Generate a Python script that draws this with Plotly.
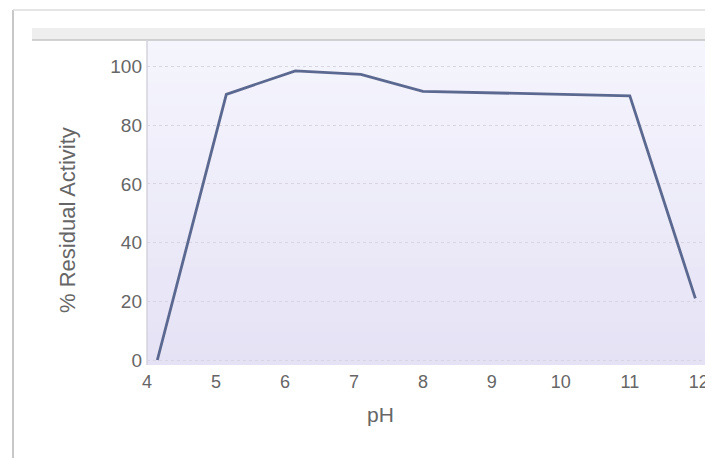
import plotly.graph_objects as go

ph = [4.15, 5.15, 6.15, 7.1, 8.0, 11.0, 11.95]
activity = [0, 90.5, 98.5, 97.3, 91.5, 90, 21]
x_ticks = [4, 5, 6, 7, 8, 9, 10, 11, 12]
y_ticks = [0, 20, 40, 60, 80, 100]

W, H = 713, 458
OFF = 8  # page offset of the figure inside the browser page
# target plot area in page pixels: x 147..705, y 40..365
L = 147 - OFF
T = 40 - OFF
R = W - (705 - OFF)
B = H - (365 - OFF)
pw, ph_ = W - L - R, H - T - B

def px(x):
    return (x - OFF - L) / pw

def py(y):
    return (H - B - (y - OFF)) / ph_

fig = go.Figure()
fig.add_trace(go.Scatter(
    x=ph, y=activity, mode="lines",
    line=dict(color="#5b6890", width=2.8),
    hoverinfo="skip", showlegend=False,
))

shapes = []
top_c = (245, 245, 253)
bot_c = (229, 226, 245)
n = 30
for i in range(n):
    t = i / (n - 1)
    c = tuple(int(round(bot_c[k] + (top_c[k] - bot_c[k]) * t)) for k in range(3))
    shapes.append(dict(type="rect", xref="paper", yref="paper",
                       x0=0, x1=1, y0=i / n, y1=(i + 1) / n + 0.002,
                       fillcolor="rgb(%d,%d,%d)" % c, line=dict(width=0), layer="below"))

shapes += [
    dict(type="line", xref="paper", yref="paper", x0=px(13), x1=px(13), y0=py(10), y1=py(H + 10),
         line=dict(color="#c8c8c8", width=2)),
    dict(type="line", xref="paper", yref="paper", x0=px(13), x1=px(W + 10), y0=py(10), y1=py(10),
         line=dict(color="#dcdcdc", width=1.5)),
    dict(type="rect", xref="paper", yref="paper", x0=px(32), x1=px(W + 10), y0=py(40), y1=py(28),
         fillcolor="#eeeeee", line=dict(width=0), layer="below"),
    dict(type="line", xref="paper", yref="paper", x0=px(32), x1=px(W + 10), y0=py(40), y1=py(40),
         line=dict(color="#c4c4c4", width=1.5)),
    dict(type="line", xref="paper", yref="paper", x0=0, x1=0, y0=0, y1=1,
         line=dict(color="#d4d2dc", width=1.5)),
]

fig.update_layout(
    width=W, height=H,
    margin=dict(l=L, r=R, t=T, b=B, autoexpand=False),
    paper_bgcolor="white",
    plot_bgcolor="#ebe9f8",
    font=dict(family="Liberation Sans, Arial, sans-serif", color="#666666", size=18),
    shapes=shapes,
    xaxis=dict(
        range=[4, 12.09], tickvals=x_ticks, showgrid=False, zeroline=False,
        showline=False, ticks="", tickfont=dict(size=18, color="#666666"),
        ticklabelstandoff=4,
        fixedrange=True, automargin=False,
    ),
    yaxis=dict(
        range=[-1.7, 109], tickvals=y_ticks, showgrid=True,
        gridcolor="#d9d4e2", griddash="dot", gridwidth=1, zeroline=False,
        showline=False, ticks="", tickfont=dict(size=19, color="#666666"),
        ticklabelstandoff=4,
        fixedrange=True, automargin=False,
    ),
    annotations=[
        dict(text="pH", xref="paper", yref="paper", x=px(380), y=py(415),
             showarrow=False, font=dict(size=21, color="#666666"),
             xanchor="center", yanchor="middle"),
        dict(text="% Residual Activity", xref="paper", yref="paper", x=px(67), y=py(220),
             showarrow=False, textangle=-90, font=dict(size=22, color="#666666"),
             xanchor="center", yanchor="middle"),
    ],
)

fig.write_html("out.html")
